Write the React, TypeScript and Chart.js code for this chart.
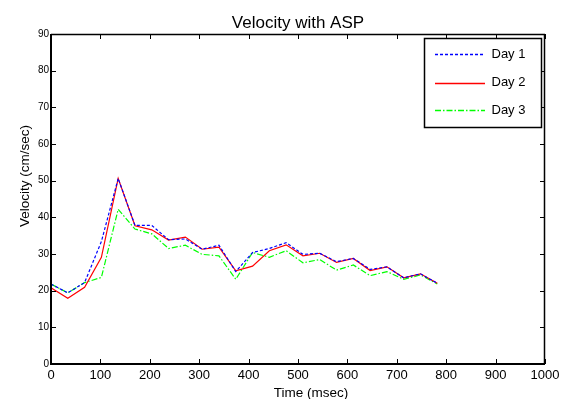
import React, { useEffect, useRef } from "react";
import { Chart, registerables } from "chart.js";

Chart.register(...registerables);

const timeMs = [0, 34, 68, 102, 136, 170, 204, 238, 272, 306, 340, 374, 408, 442, 476, 510, 544, 578, 612, 646, 680, 714, 748, 782];
const day1 = [21.8, 19.4, 22.2, 33.4, 50.6, 37.8, 37.8, 33.9, 34.1, 31.3, 32.4, 25.2, 30.4, 31.5, 33.1, 29.9, 30.2, 27.9, 28.8, 25.8, 26.5, 23.5, 24.6, 22.0];
const day2 = [20.8, 17.9, 20.9, 29.1, 50.6, 37.7, 36.6, 33.8, 34.6, 31.3, 31.9, 25.4, 26.7, 30.9, 32.5, 29.5, 30.2, 27.7, 28.8, 25.5, 26.5, 23.5, 24.6, 22.0];
const day3 = [21.8, 19.4, 22.2, 23.6, 42.2, 36.8, 35.5, 31.5, 32.4, 29.9, 29.5, 23.1, 30.4, 29.1, 30.9, 27.6, 28.5, 25.6, 27.0, 24.1, 25.2, 23.1, 24.3, 21.8];
const seriesNames = ["Day 1", "Day 2", "Day 3"];
const xTicks = [0, 100, 200, 300, 400, 500, 600, 700, 800, 900, 1000];
const yTicks = [0, 10, 20, 30, 40, 50, 60, 70, 80, 90];

const FONT = "'Liberation Sans', Arial, Helvetica, sans-serif";

const styles = [
  { color: "#0000ff", dash: [3, 2] },
  { color: "#ff0000", dash: [] as number[] },
  { color: "#00ff00", dash: [6, 2, 1.5, 2] },
];

const framePlugin = {
  id: "matlabFrame",
  afterDraw(chart: any) {
    const { ctx, chartArea } = chart;
    const { left, right, top, bottom } = chartArea;
    const xs = chart.scales.x;
    const ys = chart.scales.y;
    ctx.save();
    ctx.strokeStyle = "#000";
    // box
    ctx.lineWidth = 1.5;
    ctx.beginPath();
    ctx.moveTo(left, top + 0.5);
    ctx.lineTo(right, top + 0.5);
    ctx.moveTo(right - 0.5, top);
    ctx.lineTo(right - 0.5, bottom);
    ctx.stroke();
    ctx.lineWidth = 2;
    ctx.beginPath();
    ctx.moveTo(left, top);
    ctx.lineTo(left, bottom);
    ctx.lineTo(right, bottom);
    ctx.stroke();
    // ticks
    ctx.lineWidth = 1;
    ctx.beginPath();
    xTicks.forEach((v) => {
      const px = Math.round(xs.getPixelForValue(v)) + 0.5;
      ctx.moveTo(px, bottom);
      ctx.lineTo(px, bottom - 5);
      ctx.moveTo(px, top);
      ctx.lineTo(px, top + 5);
    });
    yTicks.forEach((v) => {
      const py = Math.round(ys.getPixelForValue(v)) + 0.5;
      ctx.moveTo(left, py);
      ctx.lineTo(left + 5, py);
      ctx.moveTo(right, py);
      ctx.lineTo(right - 5, py);
    });
    ctx.stroke();

    // title
    ctx.fillStyle = "#000";
    ctx.textAlign = "center";
    ctx.textBaseline = "alphabetic";
    ctx.font = `17px ${FONT}`;
    ctx.fillText("Velocity with ASP", (left + right) / 2, 27.5);
    // axis titles
    ctx.font = `13.5px ${FONT}`;
    ctx.fillText("Time (msec)", 311, 397);
    ctx.save();
    ctx.translate(25, 176);
    ctx.rotate(-Math.PI / 2);
    ctx.textBaseline = "middle";
    ctx.fillText("Velocity (cm/sec)", 0, 0);
    ctx.restore();

    // legend
    const lx = 424.5, ly = 38.5, lw = 117, lh = 89;
    ctx.fillStyle = "#fff";
    ctx.fillRect(lx, ly, lw, lh);
    ctx.lineWidth = 1.5;
    ctx.strokeStyle = "#000";
    ctx.strokeRect(lx, ly, lw, lh);
    const rows = [54, 82.5, 110];
    ctx.font = `13px ${FONT}`;
    ctx.textAlign = "left";
    ctx.textBaseline = "middle";
    seriesNames.forEach((name, i) => {
      ctx.lineWidth = 1.5;
      ctx.strokeStyle = styles[i].color;
      ctx.setLineDash(styles[i].dash);
      ctx.beginPath();
      ctx.moveTo(435, Math.round(rows[i]) + 0.5);
      ctx.lineTo(485, Math.round(rows[i]) + 0.5);
      ctx.stroke();
      ctx.setLineDash([]);
      ctx.fillStyle = "#000";
      ctx.fillText(name, 491.5, rows[i]);
    });
    ctx.restore();
  },
};

export default function App() {
  const ref = useRef<HTMLCanvasElement>(null);
  useEffect(() => {
    if (!ref.current) return;
    const seriesData = [day1, day2, day3];
    const chart = new Chart(ref.current, {
      type: "line",
      data: {
        datasets: seriesData.map((arr, i) => ({
          label: seriesNames[i],
          data: arr.map((y, j) => ({ x: timeMs[j], y })),
          borderColor: styles[i].color,
          borderDash: styles[i].dash,
          borderWidth: 1.2,
          pointRadius: 0,
          fill: false,
          tension: 0,
        })),
      },
      options: {
        responsive: false,
        animation: false,
        layout: { padding: { left: 0, right: 29, top: 34, bottom: 0 } },
        plugins: {
          legend: { display: false },
          title: { display: false },
          tooltip: { enabled: false },
        },
        scales: {
          x: {
            type: "linear",
            min: 0,
            max: 1000,
            afterBuildTicks: (s: any) => {
              s.ticks = xTicks.map((v) => ({ value: v }));
            },
            afterFit: (s: any) => {
              s.height = 35;
            },
            grid: { display: false, drawTicks: false },
            border: { display: false },
            ticks: {
              font: { family: FONT, size: 13 },
              color: "#000",
              padding: 4,
              maxRotation: 0,
              autoSkip: false,
              callback: (v: any) => String(v),
            },
          },
          y: {
            type: "linear",
            min: 0,
            max: 90,
            afterBuildTicks: (s: any) => {
              s.ticks = yTicks.map((v) => ({ value: v }));
            },
            afterFit: (s: any) => {
              s.width = 51;
            },
            grid: { display: false, drawTicks: false },
            border: { display: false },
            ticks: {
              font: { family: FONT, size: 10 },
              color: "#000",
              padding: 2,
              autoSkip: false,
              callback: (v: any) => String(v),
            },
          },
        },
      },
      plugins: [framePlugin],
    } as any);
    return () => chart.destroy();
  }, []);
  return (
    <div style={{ position: "fixed", left: 0, top: 0, width: 574, height: 399, background: "#fff" }}>
      <canvas ref={ref} width={574} height={399} />
    </div>
  );
}
